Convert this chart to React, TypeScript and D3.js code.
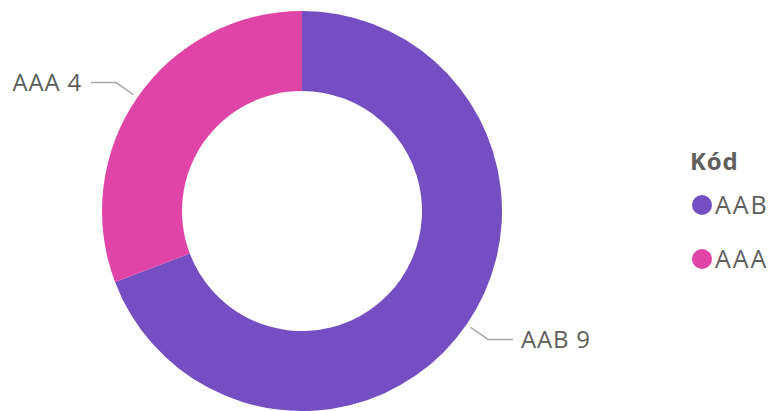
import React, { useRef, useEffect } from "react";
import * as d3 from "d3";

// chart data
const categories = ["AAB", "AAA"];
const values = [9, 4];
const colors = ["#744EC2", "#E044A7"];
const legendTitle = "Kód";

const width = 773;
const height = 411;

const App = () => {
  const container = useRef<SVGSVGElement>(null);

  useEffect(() => {
    const svg = d3.select(container.current);
    svg.selectAll("*").remove();

    const cx = 302;
    const cy = 211;
    const outer = 200;
    const inner = 120;
    const font = "'Segoe UI', 'Open Sans', sans-serif";

    const data = categories.map((c, i) => ({ name: c, value: values[i], color: colors[i] }));

    const pie = d3
      .pie<any>()
      .sort(null)
      .value((d) => d.value);
    const arcs = pie(data);

    const arc = d3.arc<any>().innerRadius(inner).outerRadius(outer);

    const g = svg.append("g").attr("transform", `translate(${cx}, ${cy})`);

    g.selectAll("path")
      .data(arcs)
      .enter()
      .append("path")
      .attr("d", arc)
      .attr("fill", (d) => d.data.color);

    // leader lines + labels
    const startArc = d3.arc<any>().innerRadius(205).outerRadius(205);
    const bendArc = d3.arc<any>().innerRadius(226).outerRadius(226);

    arcs.forEach((d) => {
      const p0 = startArc.centroid(d);
      const p1 = bendArc.centroid(d);
      const right = (d.startAngle + d.endAngle) / 2 < Math.PI;
      const p2 = [p1[0] + (right ? 25 : -25), p1[1]];
      g.append("polyline")
        .attr("points", [p0, p1, p2].map((p) => p.join(",")).join(" "))
        .attr("fill", "none")
        .attr("stroke", "#AAAAAA")
        .attr("stroke-width", 1.5);
      g.append("text")
        .attr("x", p2[0] + (right ? 8 : -9))
        .attr("y", p2[1])
        .attr("dy", "0.35em")
        .attr("text-anchor", right ? "start" : "end")
        .style("font-family", font)
        .style("font-size", "24px")
        .style("letter-spacing", "0.8px")
        .style("fill", "#605E5C")
        .text(`${d.data.name} ${d.data.value}`);
    });

    // legend
    const legend = svg.append("g").attr("transform", "translate(690, 0)");
    legend
      .append("text")
      .attr("x", 0)
      .attr("y", 162)
      .attr("dy", "0.35em")
      .style("font-family", font)
      .style("font-size", "24px")
      .style("letter-spacing", "0.8px")
      .style("font-weight", "bold")
      .style("fill", "#605E5C")
      .text(legendTitle);

    const items = legend
      .selectAll("g.item")
      .data(data)
      .enter()
      .append("g")
      .attr("class", "item")
      .attr("transform", (d, i) => `translate(0, ${205 + i * 54})`);

    items
      .append("circle")
      .attr("cx", 12)
      .attr("cy", 0)
      .attr("r", 10)
      .attr("fill", (d) => d.color);

    items
      .append("text")
      .attr("x", 25)
      .attr("y", 0)
      .attr("dy", "0.35em")
      .style("font-family", font)
      .style("font-size", "25px")
      .style("letter-spacing", "2px")
      .style("fill", "#605E5C")
      .text((d) => d.name);
  }, []);

  return (
    <div style={{ position: "absolute", left: 0, top: 0, width, height }}>
      <svg ref={container} width={width} height={height} />
    </div>
  );
};

export default App;
